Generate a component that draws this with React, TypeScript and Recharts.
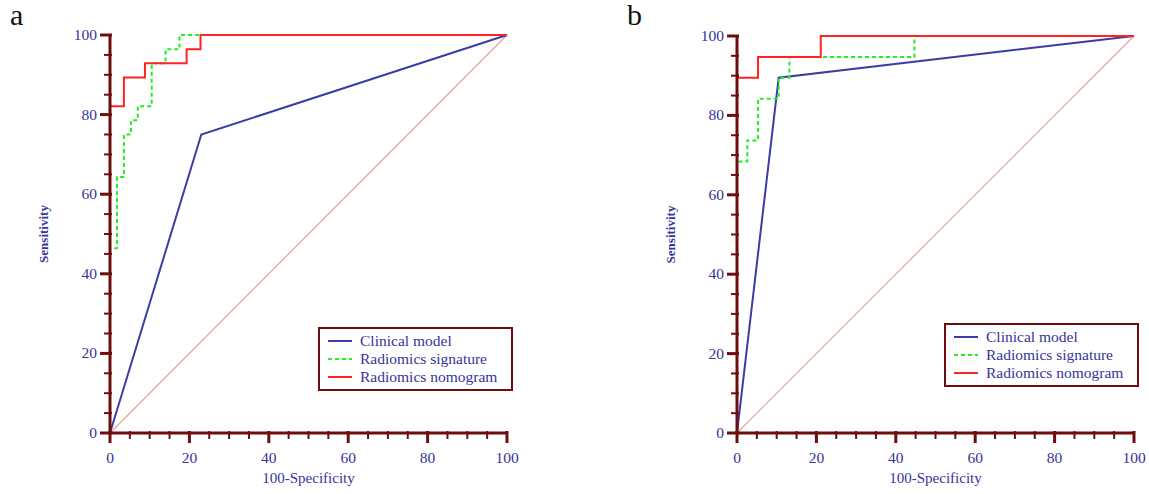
import React from "react";
import { LineChart, Line, XAxis, YAxis } from "recharts";

// ROC operating points (100-Specificity, Sensitivity) for each model
const clinicalA = [
  { x: 0, y: 0 },
  { x: 23, y: 75 },
  { x: 100, y: 100 },
];
const signatureA = [
  { x: 0, y: 0 },
  { x: 0, y: 46.4 },
  { x: 1.75, y: 64.3 },
  { x: 3.5, y: 75 },
  { x: 5.3, y: 78.6 },
  { x: 7, y: 82.1 },
  { x: 10.5, y: 92.9 },
  { x: 14, y: 96.4 },
  { x: 17.5, y: 100 },
  { x: 100, y: 100 },
];
const nomogramA = [
  { x: 0, y: 0 },
  { x: 0, y: 82.1 },
  { x: 3.5, y: 89.3 },
  { x: 8.8, y: 92.9 },
  { x: 19.3, y: 96.4 },
  { x: 22.8, y: 100 },
  { x: 100, y: 100 },
];

const clinicalB = [
  { x: 0, y: 0 },
  { x: 10.5, y: 89.5 },
  { x: 100, y: 100 },
];
const signatureB = [
  { x: 0, y: 0 },
  { x: 0, y: 68.4 },
  { x: 2.6, y: 73.7 },
  { x: 5.3, y: 84.2 },
  { x: 10.5, y: 89.5 },
  { x: 13.2, y: 94.7 },
  { x: 44.7, y: 100 },
  { x: 100, y: 100 },
];
const nomogramB = [
  { x: 0, y: 0 },
  { x: 0, y: 89.5 },
  { x: 5.3, y: 94.7 },
  { x: 21.1, y: 100 },
  { x: 100, y: 100 },
];

const chance = [
  { x: 0, y: 0 },
  { x: 100, y: 100 },
];

const ticks = [0, 5, 10, 15, 20, 25, 30, 35, 40, 45, 50, 55, 60, 65, 70, 75, 80, 85, 90, 95, 100];
const seriesNames = ["Clinical model", "Radiomics signature", "Radiomics nomogram"];

const AXIS = "#6e0d0d";
const TEXT = "#35359a";
const SERIF = "'Liberation Serif', 'DejaVu Serif', serif";
const BLUE = "#3c3ca6";
const GREEN = "#22ee22";
const RED = "#ff2222";
const DIAG = "#e8a0a0";

const XTick = ({ x, y, payload }: any) => {
  const major = payload.value % 20 === 0;
  return (
    <g>
      <line x1={x} x2={x} y1={y - 2} y2={y + (major ? 10 : 6)} stroke={AXIS} strokeWidth={major ? 3 : 2} />
      {major && (
        <text x={x} y={y + 30} textAnchor="middle" fill={TEXT} fontSize={15.5} fontFamily={SERIF}>
          {payload.value}
        </text>
      )}
    </g>
  );
};

const YTick = ({ x, y, payload }: any) => {
  const major = payload.value % 20 === 0;
  return (
    <g>
      <line x1={x + 2} x2={x - (major ? 10 : 6)} y1={y} y2={y} stroke={AXIS} strokeWidth={major ? 3 : 2} />
      {major && (
        <text x={x - 13} y={y + 5} textAnchor="end" fill={TEXT} fontSize={15.5} fontFamily={SERIF}>
          {payload.value}
        </text>
      )}
    </g>
  );
};

const YLab = ({ viewBox }: any) => {
  const cx = viewBox.x + 15;
  const cy = viewBox.y + viewBox.height / 2;
  return (
    <text
      transform={`translate(${cx}, ${cy}) rotate(-90)`}
      textAnchor="middle"
      dominantBaseline="middle"
      fill={TEXT}
      fontSize={13}
      fontWeight="bold"
      fontFamily={SERIF}
    >
      Sensitivity
    </text>
  );
};

const XLab = ({ viewBox }: any) => (
  <text
    x={viewBox.x + viewBox.width / 2}
    y={viewBox.y + viewBox.height - 2}
    textAnchor="middle"
    fill={TEXT}
    fontSize={15}
    fontFamily={SERIF}
  >
    100-Specificity
  </text>
);

const LegendBox = ({ left, top }: { left: number; top: number }) => (
  <div
    style={{
      position: "absolute",
      left,
      top,
      boxSizing: "border-box",
      border: `2px solid ${AXIS}`,
      background: "#fff",
      padding: "3px 8px 4px 8px",
      width: 195,
      height: 64,
      fontFamily: SERIF,
      fontSize: 15.5,
      color: TEXT,
      lineHeight: "18px",
    }}
  >
    {seriesNames.map((name, i) => (
      <div key={name} style={{ display: "flex", alignItems: "center" }}>
        <svg width={32} height={10}>
          <line
            x1={0}
            x2={24}
            y1={5}
            y2={5}
            stroke={[BLUE, GREEN, RED][i]}
            strokeWidth={2}
            strokeDasharray={i === 1 ? "4 3" : undefined}
          />
        </svg>
        <span>{name}</span>
      </div>
    ))}
  </div>
);

function RocPanel({
  width,
  left,
  right,
  top,
  clinical,
  signature,
  nomogram,
}: {
  width: number;
  left: number;
  right: number;
  top: number;
  clinical: { x: number; y: number }[];
  signature: { x: number; y: number }[];
  nomogram: { x: number; y: number }[];
}) {
  return (
    <LineChart width={width} height={494} margin={{ top, right, bottom: 9, left }}>
      <XAxis
        type="number"
        dataKey="x"
        domain={[0, 100]}
        ticks={ticks}
        interval={0}
        tickSize={0}
        tickMargin={0}
        tickLine={false}
        tick={<XTick />}
        axisLine={{ stroke: AXIS, strokeWidth: 3 }}
        height={52}
        label={<XLab />}
      />
      <YAxis
        type="number"
        dataKey="y"
        domain={[0, 100]}
        ticks={ticks}
        interval={0}
        tickSize={0}
        tickMargin={0}
        tickLine={false}
        tick={<YTick />}
        axisLine={{ stroke: AXIS, strokeWidth: 3 }}
        width={80}
        label={<YLab />}
      />
      <Line data={chance} dataKey="y" type="linear" stroke={DIAG} strokeWidth={1.2} dot={false} activeDot={false} isAnimationActive={false} />
      <Line data={clinical} dataKey="y" name={seriesNames[0]} type="linear" stroke={BLUE} strokeWidth={2} dot={false} activeDot={false} isAnimationActive={false} />
      <Line data={signature} dataKey="y" name={seriesNames[1]} type="stepAfter" stroke={GREEN} strokeWidth={2} strokeDasharray="4 3" dot={false} activeDot={false} isAnimationActive={false} />
      <Line data={nomogram} dataKey="y" name={seriesNames[2]} type="stepAfter" stroke={RED} strokeWidth={2} dot={false} activeDot={false} isAnimationActive={false} />
    </LineChart>
  );
}

export default function App() {
  return (
    <div style={{ position: "absolute", left: 0, top: 0, width: 1149, height: 494, background: "#fff" }}>
      <div style={{ position: "absolute", left: 0, top: 0 }}>
        <RocPanel width={575} left={30} right={68} top={35} clinical={clinicalA} signature={signatureA} nomogram={nomogramA} />
      </div>
      <div style={{ position: "absolute", left: 600, top: 0 }}>
        <RocPanel width={549} left={57} right={15} top={36} clinical={clinicalB} signature={signatureB} nomogram={nomogramB} />
      </div>
      <LegendBox left={318} top={327} />
      <LegendBox left={944} top={323} />
      <div style={{ position: "absolute", left: 10, top: -2, fontFamily: SERIF, fontSize: 30, color: "#111" }}>a</div>
      <div style={{ position: "absolute", left: 627, top: -2, fontFamily: SERIF, fontSize: 30, color: "#111" }}>b</div>
    </div>
  );
}
